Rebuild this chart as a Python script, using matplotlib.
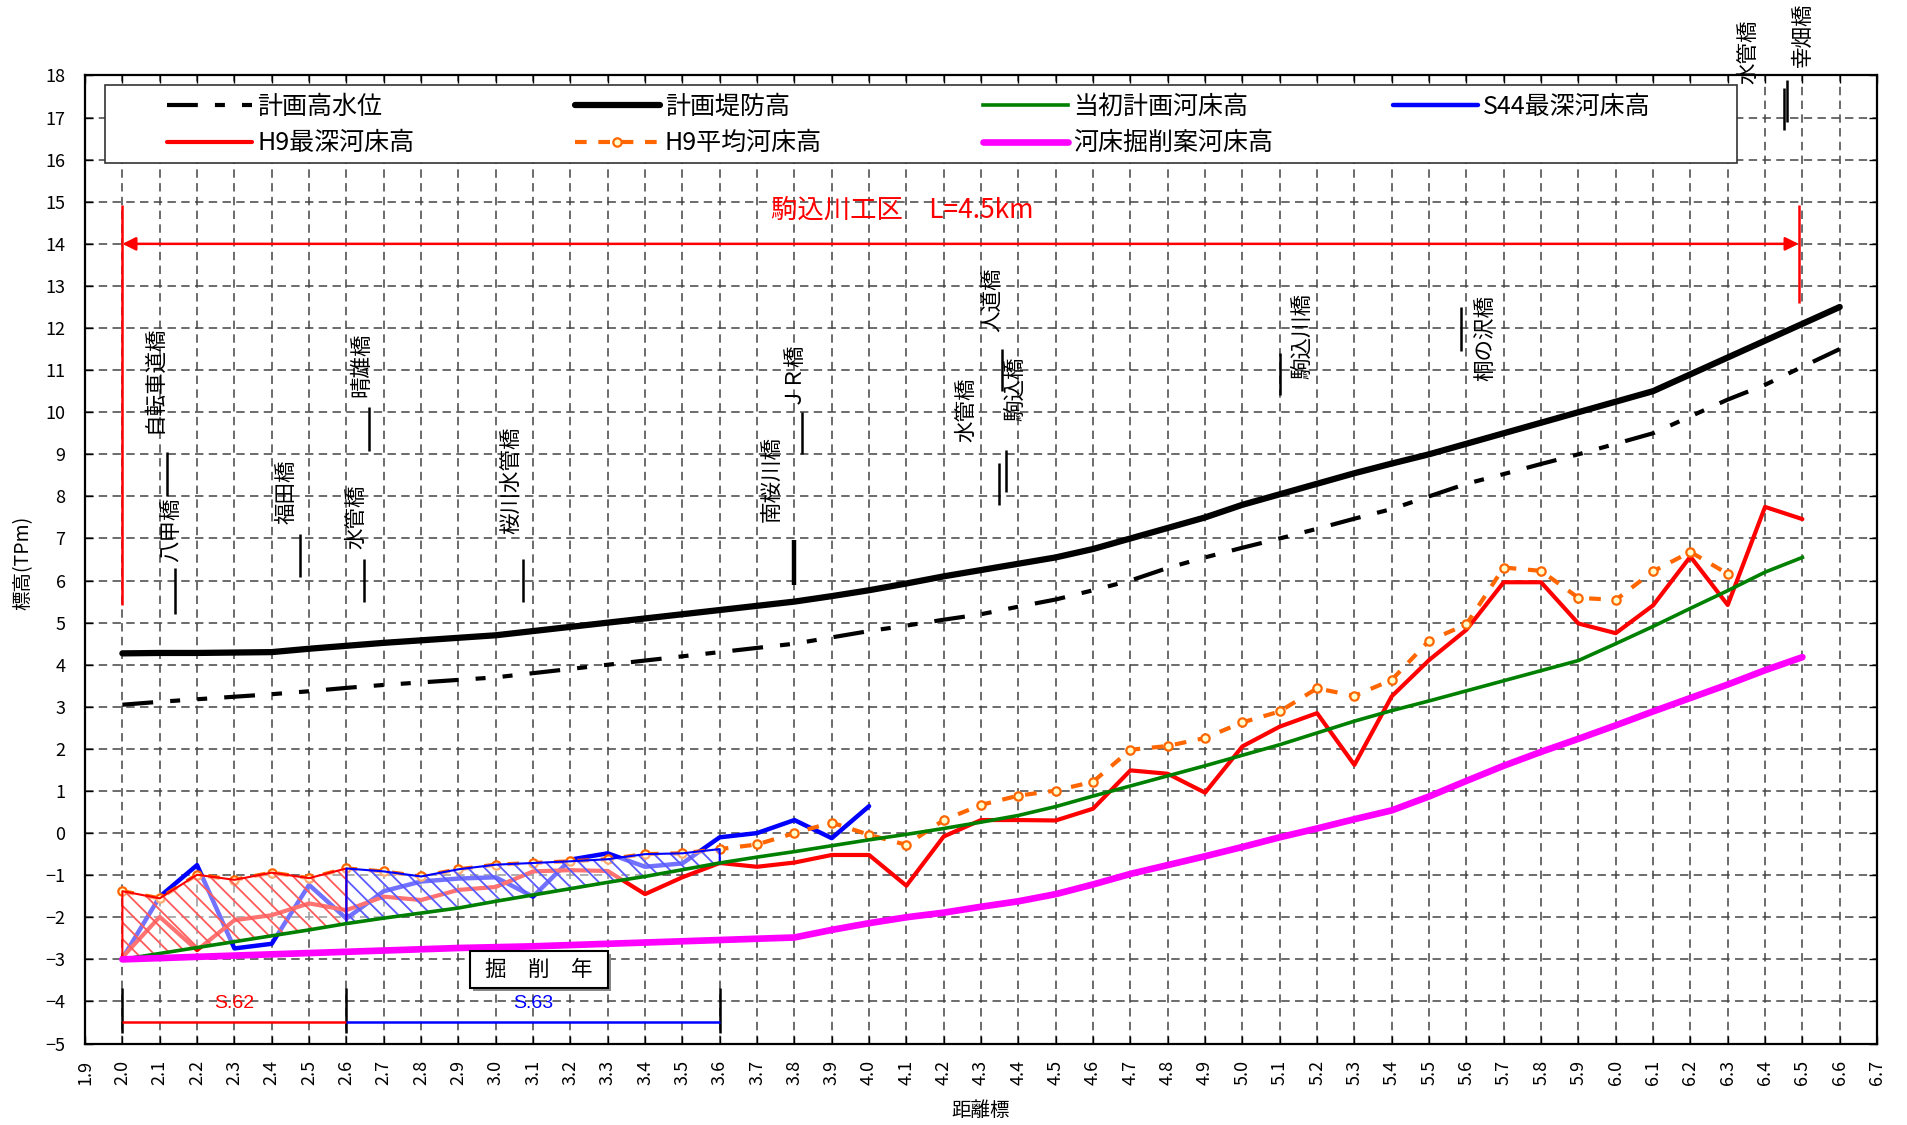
import numpy as np
import matplotlib
matplotlib.use("Agg")
import matplotlib.pyplot as plt
from matplotlib.patches import Rectangle

plt.rcParams["font.family"] = ["Noto Sans CJK JP", "DejaVu Sans"]
plt.rcParams["hatch.linewidth"] = 1.3

# ------------------------------------------------------------
# 縦断データ (距離標 km / 標高 TPm)
# ------------------------------------------------------------
km = [2.0, 2.1, 2.2, 2.3, 2.4, 2.5, 2.6, 2.7, 2.8, 2.9,
      3.0, 3.1, 3.2, 3.3, 3.4, 3.5, 3.6, 3.7, 3.8, 3.9,
      4.0, 4.1, 4.2, 4.3, 4.4, 4.5, 4.6, 4.7, 4.8, 4.9,
      5.0, 5.1, 5.2, 5.3, 5.4, 5.5, 5.6, 5.7, 5.8, 5.9,
      6.0, 6.1, 6.2, 6.3, 6.4, 6.5, 6.6]

# 計画高水位
hwl = [3.05, 3.12, 3.18, 3.24, 3.30, 3.37, 3.45, 3.52, 3.58, 3.64,
       3.70, 3.80, 3.90, 4.00, 4.10, 4.20, 4.30, 4.40, 4.50, 4.65,
       4.80, 4.93, 5.07, 5.20, 5.38, 5.55, 5.77, 6.00, 6.30, 6.55,
       6.78, 7.00, 7.23, 7.47, 7.70, 8.00, 8.30, 8.53, 8.77, 9.00,
       9.25, 9.50, 9.90, 10.30, 10.65, 11.08, 11.50]

# 計画堤防高
levee = [4.27, 4.28, 4.28, 4.29, 4.30, 4.38, 4.45, 4.52, 4.58, 4.64,
         4.70, 4.80, 4.90, 5.00, 5.10, 5.20, 5.30, 5.40, 5.50, 5.63,
         5.77, 5.93, 6.10, 6.25, 6.40, 6.55, 6.75, 7.00, 7.25, 7.50,
         7.80, 8.05, 8.30, 8.55, 8.78, 9.00, 9.25, 9.50, 9.75, 10.00,
         10.25, 10.50, 10.90, 11.30, 11.70, 12.10, 12.50]

# 当初計画河床高 (2.0-6.5)
plan_bed = [-3.00, -2.86, -2.72, -2.58, -2.44, -2.30, -2.15, -2.02, -1.90, -1.78,
            -1.62, -1.47, -1.32, -1.17, -1.03, -0.87, -0.71, -0.57, -0.44, -0.30,
            -0.16, -0.03, 0.11, 0.26, 0.42, 0.63, 0.88, 1.12, 1.36, 1.60,
            1.85, 2.10, 2.38, 2.66, 2.91, 3.14, 3.38, 3.62, 3.86, 4.10,
            4.50, 4.91, 5.34, 5.76, 6.20, 6.55]

# S44最深河床高 (2.0-4.0)
s44_deep = [-2.98, -1.51, -0.76, -2.74, -2.63, -1.23, -2.03, -1.38, -1.15, -1.08,
            -1.05, -1.51, -0.63, -0.48, -0.80, -0.72, -0.10, 0.00, 0.31, -0.12,
            0.64]

# H9最深河床高 (2.0-6.5)
h9_deep = [-2.95, -1.99, -2.78, -2.07, -1.95, -1.67, -1.83, -1.51, -1.59, -1.35,
           -1.28, -0.91, -0.88, -0.90, -1.45, -1.05, -0.71, -0.80, -0.70, -0.52,
           -0.52, -1.25, -0.08, 0.31, 0.31, 0.30, 0.58, 1.49, 1.41, 0.96,
           2.06, 2.53, 2.85, 1.62, 3.25, 4.11, 4.83, 5.96, 5.96, 4.98,
           4.75, 5.41, 6.57, 5.42, 7.75, 7.46]

# H9平均河床高 (2.0-6.3)
h9_mean = [-1.38, -1.55, -0.99, -1.11, -0.94, -1.07, -0.84, -0.91, -1.03, -0.86,
           -0.75, -0.71, -0.67, -0.62, -0.50, -0.48, -0.38, -0.27, 0.00, 0.25,
           -0.04, -0.28, 0.31, 0.67, 0.89, 1.01, 1.22, 1.98, 2.07, 2.26,
           2.63, 2.89, 3.44, 3.26, 3.64, 4.57, 4.96, 6.31, 6.23, 5.59,
           5.54, 6.22, 6.68, 6.16]

# 河床掘削案河床高 (2.0-6.5)
dredge = [-3.00, -2.97, -2.94, -2.91, -2.88, -2.85, -2.82, -2.79, -2.76, -2.73,
          -2.71, -2.69, -2.66, -2.63, -2.60, -2.57, -2.54, -2.51, -2.48, -2.30,
          -2.14, -2.00, -1.89, -1.75, -1.62, -1.45, -1.22, -0.97, -0.76, -0.55,
          -0.33, -0.10, 0.11, 0.33, 0.54, 0.87, 1.24, 1.60, 1.93, 2.24,
          2.56, 2.89, 3.21, 3.53, 3.87, 4.18]

# 掘削年 (区間の始点・終点 km)
dig_years = ["S.62", "S.63"]
dig_start = [2.0, 2.6]
dig_end = [2.6, 3.6]

# 橋梁名と表示位置
bridge_names = ["自転車道橋", "八甲橋", "福田橋", "水管橋", "晴雄橋", "桜川水管橋",
                "南桜川橋", "ＪＲ橋", "水管橋", "人道橋", "駒込橋", "駒込川橋",
                "桐の沢橋", "水管橋", "幸畑橋"]
bridge_label_x = [2.085, 2.13, 2.44, 2.627, 2.64, 3.04, 3.74, 3.79, 4.26, 4.33,
                  4.39, 5.16, 5.65, 6.355, 6.50]
bridge_label_y = [9.5, 6.45, 7.35, 6.75, 10.35, 7.1, 7.4, 10.2, 9.3, 11.9,
                  9.8, 10.8, 10.75, 17.8, 18.2]

# 橋梁の桁位置
girder_x = [2.12, 2.14, 2.475, 2.648, 2.66, 3.074, 3.80, 3.82, 4.347, 4.367,
            4.357, 5.10, 5.585, 6.45, 6.46]
girder_bottom = [8.0, 5.2, 6.08, 5.49, 9.09, 5.49, 5.89, 9.0, 7.8, 8.1,
                 10.5, 10.4, 11.46, 16.7, 16.9]
girder_top = [9.05, 6.3, 7.11, 6.52, 10.12, 6.52, 6.96, 10.0, 8.8, 9.1,
              11.5, 11.4, 12.5, 17.7, 17.9]
girder_lw = [1.8, 1.8, 1.8, 1.8, 1.8, 1.8, 3.2, 1.8, 1.8, 1.8,
             1.8, 1.8, 1.8, 1.8, 1.8]

# 工区
section_start, section_end = 2.0, 6.49

# ------------------------------------------------------------
fig = plt.figure(figsize=(19.07, 11.25), dpi=100, facecolor="white")
ax = fig.add_axes([0.0446, 0.0724, 0.9397, 0.8605])

l_hwl, = ax.plot(km, hwl, color="black", lw=3, dashes=(7.4, 4.1, 2.4, 4.1, 2.4, 4.1),
                 dash_capstyle="butt", zorder=3, label="計画高水位")
l_levee, = ax.plot(km, levee, color="black", lw=4.5, solid_capstyle="round",
                   zorder=3, label="計画堤防高")
l_plan, = ax.plot(km[:len(plan_bed)], plan_bed, color="#008000", lw=2.6,
                  zorder=5, label="当初計画河床高")
l_s44, = ax.plot(km[:len(s44_deep)], s44_deep, color="#0000FF", lw=3.2,
                 solid_capstyle="round", zorder=3, label="S44最深河床高")
l_h9d, = ax.plot(km[:len(h9_deep)], h9_deep, color="#FF0000", lw=3.0,
                 solid_capstyle="round", zorder=3.1, label="H9最深河床高")
l_h9m, = ax.plot(km[:len(h9_mean)], h9_mean, color="#FF6600", lw=3.0,
                 dashes=(2.8, 2.8), dash_capstyle="butt", marker="o", ms=6,
                 mfc="#FFFFCC", mec="#FF6600", mew=1.6, zorder=3.2,
                 label="H9平均河床高")
l_dr, = ax.plot(km[:len(dredge)], dredge, color="#FF00FF", lw=4.8,
                solid_capstyle="round", zorder=5, label="河床掘削案河床高")

# 掘削区間のハッチ (H9平均河床高〜当初計画河床高)
zone_hatch = ["#FF5A5A", "#5A5AFF"]
zone_edge = ["#FF0000", "#0000FF"]
for k in range(len(dig_years)):
    i0 = km.index(dig_start[k])
    i1 = km.index(dig_end[k]) + 1
    xs = km[i0:i1]
    lo = plan_bed[i0:i1]
    hi = h9_mean[i0:i1]
    ax.fill_between(xs, lo, hi, facecolor=(1, 1, 1, 0.45), edgecolor=zone_hatch[k],
                    hatch="\\\\", linewidth=0, zorder=4)
    ax.fill_between(xs, lo, hi, facecolor="none", edgecolor=zone_edge[k],
                    linewidth=1.5, zorder=4.1)

# 掘削年の区間表示
ax.vlines([dig_start[0]] + dig_end, -4.75, -3.68, color="black", lw=1.8, zorder=4)
for k in range(len(dig_years)):
    ax.hlines(-4.49, dig_start[k], dig_end[k], color=zone_edge[k], lw=1.8, zorder=4)
    ax.text((dig_start[k] + dig_end[k]) / 2, -4.05, dig_years[k], color=zone_edge[k],
            fontsize=14, ha="center", va="center", family="Liberation Sans")

ax.add_patch(Rectangle((2.94, -3.75), 0.37, 0.88, facecolor="#888888",
                       edgecolor="none", zorder=6))
ax.add_patch(Rectangle((2.93, -3.68), 0.37, 0.88, facecolor="white",
                       edgecolor="black", lw=1.5, zorder=6.1))
ax.text(3.115, -3.24, "掘　削　年", fontsize=15.5, ha="center", va="center", zorder=6.2)

# 工区の範囲
ax.vlines(section_start, 5.42, 14.92, color="red", lw=1.8, zorder=3)
ax.vlines(section_end, 12.6, 14.92, color="red", lw=1.8, zorder=3)
ax.annotate("", xy=(section_end, 14.0), xytext=(section_start, 14.0),
            arrowprops=dict(arrowstyle="<|-|>", color="red", lw=1.8,
                            mutation_scale=20, shrinkA=0, shrinkB=0), zorder=3)
ax.text(4.09, 14.8, "駒込川工区　L=4.5km", color="red", fontsize=19,
        ha="center", va="center")

# 橋梁
for xb, yb0, yb1, lw in zip(girder_x, girder_bottom, girder_top, girder_lw):
    ax.vlines(xb, yb0, yb1, color="black", lw=lw, zorder=3)
for name, xb, yb in zip(bridge_names, bridge_label_x, bridge_label_y):
    ax.text(xb, yb, name, rotation=90, fontsize=15.5, ha="center", va="bottom",
            zorder=3)

# 軸
ax.set_xlim(1.9, 6.7)
ax.set_ylim(-5, 18)
xt = np.round(np.arange(19, 68) / 10, 1)
ax.set_xticks(xt)
ax.set_xticklabels([f"{v:.1f}" for v in xt], rotation=90, fontsize=13)
ax.set_yticks(range(-5, 19))
ax.tick_params(axis="y", labelsize=13, pad=14)
ax.tick_params(axis="x", pad=12)
ax.tick_params(direction="in", length=6, width=1, top=True, right=True)
ax.grid(True, color="#444444", lw=1.1, linestyle=(0, (5.5, 3.5)))
ax.set_axisbelow(True)
for sp in ax.spines.values():
    sp.set_linewidth(1.6)
    sp.set_color("black")

ax.set_ylabel("標高(TPm)", fontsize=14)
ax.yaxis.set_label_coords(-0.029, 0.497)
ax.set_xlabel("距離標", fontsize=14)
ax.xaxis.set_label_coords(0.4995, -0.058)

# 凡例
ax.add_patch(Rectangle((0.0109, 0.9098), 0.9107, 0.0804, transform=ax.transAxes,
                       facecolor="white", edgecolor="#333333", lw=1.2, zorder=7))
legend_cols = [[l_hwl, l_h9d], [l_levee, l_h9m], [l_plan, l_dr], [l_s44]]
legend_x = [0.0458, 0.2734, 0.5011, 0.7299]
legends = []
for handles, lx in zip(legend_cols, legend_x):
    ly = 0.9488 if len(handles) == 2 else 0.9677
    leg = ax.legend(handles=handles, loc="center left", bbox_to_anchor=(lx, ly),
                    frameon=False, borderpad=0, borderaxespad=0, fontsize=18,
                    handlelength=3.4, handletextpad=0.2, labelspacing=0.42)
    leg.set_zorder(8)
    legends.append(leg)
for leg in legends[:-1]:
    ax.add_artist(leg)

fig.savefig("out.png", dpi=100, facecolor="white")
